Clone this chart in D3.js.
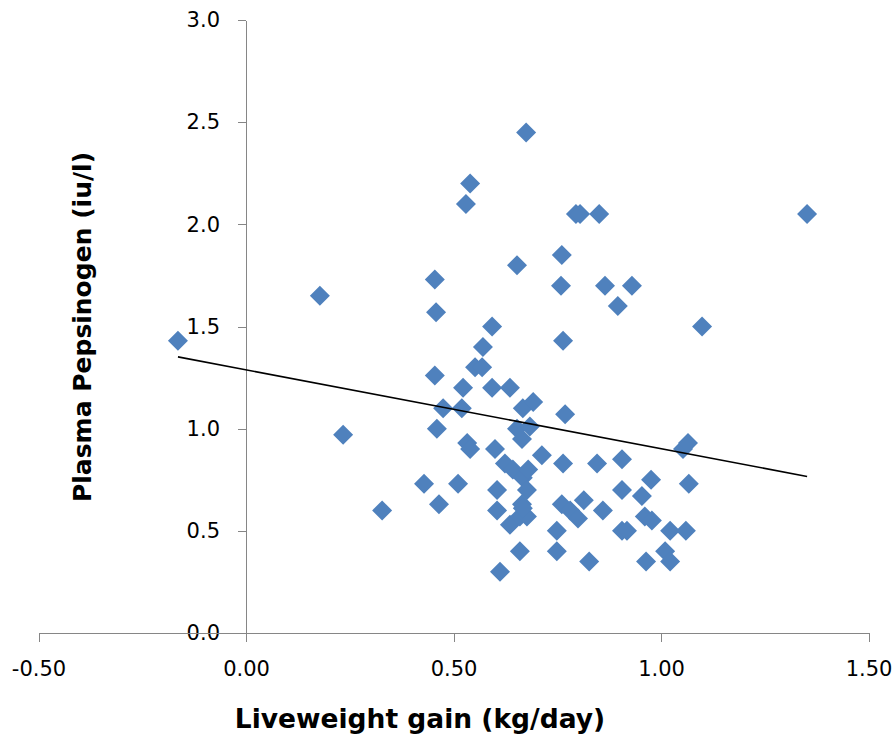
<!DOCTYPE html>
<html>
<head>
<meta charset="utf-8">
<title>Plasma Pepsinogen vs Liveweight gain</title>
<style>
body {
  margin: 0;
  background: #fff;
}

.axis path,
.axis line {
  fill: none;
  stroke: #868686;
  shape-rendering: crispEdges;
}

.axis text {
  font: 21px "DejaVu Sans", sans-serif;
  fill: #000;
}

.dot {
  fill: #4f81bd;
}

.trend {
  fill: none;
  stroke: #000;
  stroke-width: 1.6px;
}

.title {
  font: bold 25px "DejaVu Sans", sans-serif;
  fill: #000;
}

.title.x-title {
  font-size: 26.5px;
}
</style>
</head>
<body>
<div id="vis"></div>

<script src="https://d3js.org/d3.v7.min.js"></script>
<script>

// Liveweight gain (kg/day)
var lwg = [-0.164, 0.178, 0.234, 0.328, 0.429, 0.455, 0.458, 0.455, 0.460, 0.465,
           0.475, 0.511, 0.520, 0.523, 0.530, 0.533, 0.540, 0.540, 0.552, 0.569,
           0.571, 0.593, 0.593, 0.600, 0.605, 0.605, 0.612, 0.624, 0.636, 0.643,
           0.636, 0.653, 0.653, 0.660, 0.667, 0.665, 0.667, 0.665, 0.660, 0.677,
           0.680, 0.675, 0.684, 0.692, 0.713, 0.749, 0.749, 0.761, 0.759, 0.761,
           0.764, 0.764, 0.769, 0.781, 0.677, 0.800, 0.795, 0.805, 0.814, 0.827,
           0.846, 0.851, 0.860, 0.865, 0.896, 0.906, 0.906, 0.906, 0.918, 0.930,
           0.954, 0.961, 0.964, 0.976, 0.978, 1.010, 1.022, 1.022, 1.060, 1.053,
           1.065, 1.067, 1.099, 1.352, 0.667];

// Plasma pepsinogen (iu/l)
var pepsinogen = [1.43, 1.65, 0.97, 0.60, 0.73, 1.73, 1.57, 1.26, 1.00, 0.63,
                  1.10, 0.73, 1.10, 1.20, 2.10, 0.93, 0.90, 2.20, 1.30, 1.30,
                  1.40, 1.50, 1.20, 0.90, 0.70, 0.60, 0.30, 0.83, 1.20, 0.80,
                  0.53, 1.00, 1.80, 0.40, 1.10, 0.95, 0.76, 0.63, 0.57, 0.70,
                  0.80, 2.45, 1.01, 1.13, 0.87, 0.50, 0.40, 0.63, 1.70, 1.85,
                  0.83, 1.43, 1.07, 0.60, 0.57, 0.56, 2.05, 2.05, 0.65, 0.35,
                  0.83, 2.05, 0.60, 1.70, 1.60, 0.85, 0.70, 0.50, 0.50, 1.70,
                  0.67, 0.57, 0.35, 0.75, 0.55, 0.40, 0.50, 0.35, 0.50, 0.90,
                  0.93, 0.73, 1.50, 2.05, 0.61];

// Linear trendline as drawn in the picture: y = slope * x + intercept
var trendSlope = -0.386,
    trendIntercept = 1.288;

var xTicks = [-0.5, 0, 0.5, 1.0, 1.5];
var yTicks = [0, 0.5, 1.0, 1.5, 2.0, 2.5, 3.0];

var width = 894,
    height = 740;

var svg = d3.select("#vis").append("svg")
    .attr("width", width)
    .attr("height", height);

var x = d3.scaleLinear()
    .domain([-0.5, 1.5])
    .range([38.5, 868.5]);

var y = d3.scaleLinear()
    .domain([0, 3])
    .range([633, 20]);

var data = lwg.map(function(d, i) { return {x: d, y: pepsinogen[i]}; });

// trendline spans the range of the data
var xExt = d3.extent(lwg);

// plain hyphen for negatives, like the original
var fmt = d3.formatLocale({decimal: ".", thousands: ",", grouping: [3], currency: ["", ""], minus: "-"});

// Axes cross at zero
var yAxis = d3.axisLeft(y)
    .tickValues(yTicks)
    .tickFormat(fmt.format(".1f"))
    .tickSize(8)
    .tickSizeOuter(0)
    .tickPadding(18);

var xAxis = d3.axisBottom(x)
    .tickValues(xTicks)
    .tickFormat(fmt.format(".2f"))
    .tickSize(9)
    .tickSizeOuter(0)
    .tickPadding(19);

svg.append("g")
    .attr("class", "y axis")
    .attr("transform", "translate(" + x(0) + ",0)")
    .call(yAxis);

svg.append("g")
    .attr("class", "x axis")
    .attr("transform", "translate(0," + y(0) + ")")
    .call(xAxis);

svg.selectAll(".dot")
    .data(data)
    .enter()
    .append("path")
    .attr("class", "dot")
    .attr("d", d3.symbol(d3.symbolSquare, 200))
    .attr("transform", function(d) {
      return "translate(" + x(d.x) + "," + y(d.y) + ") rotate(45)";
    });

svg.append("line")
    .attr("class", "trend")
    .attr("x1", x(xExt[0]))
    .attr("y1", y(trendIntercept + trendSlope * xExt[0]))
    .attr("x2", x(xExt[1]))
    .attr("y2", y(trendIntercept + trendSlope * xExt[1]));

// Axis titles
svg.append("text")
    .attr("class", "title x-title")
    .attr("x", 420)
    .attr("y", 728)
    .attr("text-anchor", "middle")
    .text("Liveweight gain (kg/day)");

svg.append("text")
    .attr("class", "title")
    .attr("transform", "translate(91,327) rotate(-90)")
    .attr("text-anchor", "middle")
    .text("Plasma Pepsinogen (iu/l)");

</script>
</body>
</html>
